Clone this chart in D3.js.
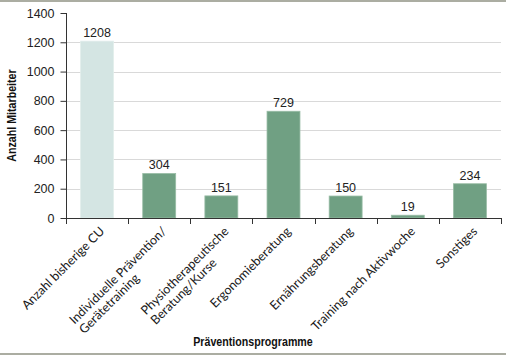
<!DOCTYPE html>
<html>
<head>
<meta charset="utf-8">
<script src="https://cdn.jsdelivr.net/npm/d3@7"></script>
<style>
  html, body { margin: 0; padding: 0; background: #fff; }
  svg { display: block; }
</style>
</head>
<body>
<svg id="chart" width="506" height="356"></svg>
<script>
const categories = [
  ["Anzahl bisherige CU"],
  ["Individuelle Prävention/", "Gerätetraining"],
  ["Physiotherapeutische", "Beratung/Kurse"],
  ["Ergonomieberatung"],
  ["Ernährungsberatung"],
  ["Training nach Aktivwoche"],
  ["Sonstiges"]
];
const values = [1208, 304, 151, 729, 150, 19, 234];
const yTicks = [0, 200, 400, 600, 800, 1000, 1200, 1400];
const gridTicks = [200, 400, 600, 800, 1000, 1200];
const yTitle = "Anzahl Mitarbeiter";
const xTitle = "Präventionsprogramme";

(function () {
const W = 506, H = 356;
const mLeft = 66, mRight = 501, mTop = 13, mBottom = 218;
const svg = d3.select("#chart");
const keys = categories.map(c => c.join(" "));

const x = d3.scaleBand().domain(keys).range([mLeft, mRight]).padding(0);
const xb = d3.scaleBand().domain(keys).range([mLeft, mRight]).paddingInner(0.47).paddingOuter(0.235);
const y = d3.scaleLinear().domain([0, 1400]).range([mBottom, mTop]);

// frame lines
svg.append("rect").attr("x", 0).attr("y", 0).attr("width", W).attr("height", 2).attr("fill", "#abada2");
svg.append("rect").attr("x", 0).attr("y", 353).attr("width", W).attr("height", 2).attr("fill", "#abada2");

// gridlines
svg.append("g").selectAll("line").data(gridTicks).join("line")
  .attr("x1", mLeft).attr("x2", mRight)
  .attr("y1", d => Math.round(y(d)) + 0.5).attr("y2", d => Math.round(y(d)) + 0.5)
  .attr("stroke", "#d9d9d9").attr("stroke-width", 1);

// bars
svg.append("g").selectAll("rect").data(values).join("rect")
  .attr("x", (d, i) => xb(keys[i]))
  .attr("width", xb.bandwidth())
  .attr("y", d => y(d))
  .attr("height", d => y(0) - y(d))
  .attr("fill", (d, i) => i === 0 ? "#d4e5e3" : "#70a083")
  .attr("stroke", (d, i) => i === 0 ? "#e2eeec" : "#98bca5")
  .attr("stroke-width", 0.8);

// value labels
svg.append("g").selectAll("text").data(values).join("text")
  .attr("x", (d, i) => xb(keys[i]) + xb.bandwidth() / 2)
  .attr("y", d => y(d) - 4)
  .attr("text-anchor", "middle")
  .attr("font-family", "Liberation Sans, Arial, sans-serif")
  .attr("font-size", 12.5)
  .attr("fill", "#222")
  .text(d => d);

// y axis
const yAxis = d3.axisLeft(y).tickValues(yTicks).tickFormat(d3.format("d"))
  .tickSize(6).tickSizeOuter(0).tickPadding(6);
const gy = svg.append("g").attr("transform", `translate(${mLeft + 0.5},0)`).call(yAxis);
gy.select(".domain").remove();
gy.selectAll(".tick line").attr("stroke", "#333");
gy.selectAll(".tick text").attr("font-family", "Liberation Sans, Arial, sans-serif").attr("font-size", 12.5).attr("fill", "#222");
svg.append("line").attr("x1", mLeft + 0.5).attr("x2", mLeft + 0.5)
  .attr("y1", y(1400)).attr("y2", y(0) + 6).attr("stroke", "#333");

// x axis baseline and boundary ticks
svg.append("line").attr("x1", mLeft).attr("x2", mRight)
  .attr("y1", y(0) + 0.5).attr("y2", y(0) + 0.5).attr("stroke", "#333");
const bounds = keys.map(k => x(k)).concat([x.range()[1]]);
svg.append("g").selectAll("line").data(bounds).join("line")
  .attr("x1", d => Math.round(d) + 0.5).attr("x2", d => Math.round(d) + 0.5)
  .attr("y1", y(0)).attr("y2", y(0) + 6).attr("stroke", "#333");

// category labels
const lg = svg.append("g").selectAll("g").data(categories).join("g")
  .attr("transform", (d, i) => `translate(${x(keys[i]) + x.bandwidth() / 2 + 5},${y(0) + 11}) rotate(-45)`)
  .attr("font-family", "Lato, Liberation Sans, sans-serif")
  .attr("font-size", 12.5)
  .attr("fill", "#1a1a1a");
lg.each(function(lines) {
  const g = d3.select(this);
  const t1 = g.append("text").attr("text-anchor", "end").attr("dy", "0.35em").text(lines[0]);
  if (lines.length > 1) {
    const L = t1.node().getComputedTextLength();
    g.append("text").attr("text-anchor", "start").attr("x", -L).attr("dy", "1.45em").text(lines[1]);
  }
});

// axis titles (condensed bold)
svg.append("text")
  .attr("transform", `translate(16,${(y(0) + y(1400)) / 2}) rotate(-90) scale(0.82,1)`)
  .attr("text-anchor", "middle")
  .attr("font-family", "Liberation Sans, Arial, sans-serif")
  .attr("font-weight", "bold").attr("font-size", 13).attr("fill", "#111")
  .text(yTitle);
svg.append("text")
  .attr("transform", "translate(253,346) scale(0.82,1)")
  .attr("text-anchor", "middle")
  .attr("font-family", "Liberation Sans, Arial, sans-serif")
  .attr("font-weight", "bold").attr("font-size", 13).attr("fill", "#111")
  .text(xTitle);
})();
</script>
</body>
</html>
